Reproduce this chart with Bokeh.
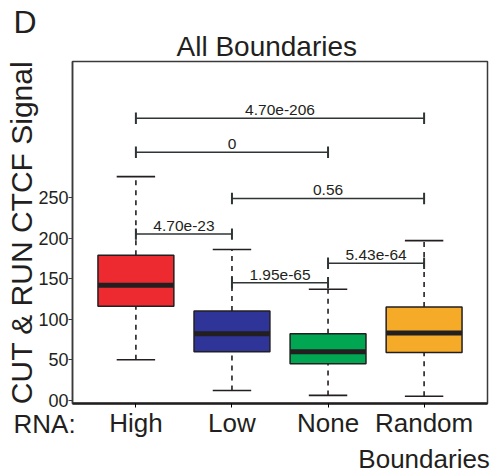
import math
from bokeh.plotting import figure
from bokeh.models import Range1d, FixedTicker, ColumnDataSource, Title
from bokeh.core.properties import value
from bokeh.embed import file_html
from bokeh.resources import INLINE

# ---- data ----
categories = ["High", "Low", "None", "Random\nBoundaries"]
whisker_low = [50, 12, 6, 5]
q1 = [116, 60, 45, 59]
median = [142, 82, 60, 83]
q3 = [179, 110, 82, 115]
whisker_high = [276, 186, 137, 197]
box_colors = ["#ec2a2f", "#2f3598", "#00a651", "#f5ab27"]

# comparisons: (first group index, second group index, p-value label, bracket height)
cmp_a = [1, 1, 2, 1, 2, 3]
cmp_b = [4, 3, 4, 2, 3, 4]
cmp_p = ["4.70e-206", "0", "0.56", "4.70e-23", "1.95e-65", "5.43e-64"]
cmp_y = [348, 306, 249, 205, 145, 169]

y_ticks = [0, 50, 100, 150, 200, 250]
y_tick_labels = ["00", "50", "100", "150", "200", "250"]

title_text = "All Boundaries"
panel_text = "D"
ylabel_text = "CUT & RUN CTCF Signal"
xprefix_text = "RNA:"

FONT = "Liberation Sans"
INK = "#231f20"

xs = [i + 1 for i in range(len(categories))]

p = figure(width=501, height=476, output_backend="svg", toolbar_location=None,
           x_range=Range1d(0.34, 4.66), y_range=Range1d(-4, 418),
           min_border_left=72, min_border_right=14, min_border_top=61, min_border_bottom=71)
p.grid.visible = False
p.outline_line_color = "#3a3a3a"
p.outline_line_width = 1.5
p.background_fill_color = "white"
p.border_fill_color = "white"

# whiskers
src = ColumnDataSource(dict(x=xs, lo=whisker_low, q1=q1, med=median, q3=q3, hi=whisker_high,
                            color=box_colors))
p.segment(x0="x", y0="q3", x1="x", y1="hi", source=src, line_color=INK, line_width=1.6, line_dash="5 5")
p.segment(x0="x", y0="lo", x1="x", y1="q1", source=src, line_color=INK, line_width=1.6, line_dash="5 5")
cap_w = 0.2
p.segment(x0=[x - cap_w for x in xs], y0=whisker_high, x1=[x + cap_w for x in xs], y1=whisker_high,
          line_color=INK, line_width=1.6)
p.segment(x0=[x - cap_w for x in xs], y0=whisker_low, x1=[x + cap_w for x in xs], y1=whisker_low,
          line_color=INK, line_width=1.6)
# boxes
p.vbar(x="x", width=0.79, bottom="q1", top="q3", source=src, fill_color="color",
       line_color=INK, line_width=1.5)
p.segment(x0=[x - 0.395 for x in xs], y0=median, x1=[x + 0.395 for x in xs], y1=median,
          line_color=INK, line_width=5)

# significance brackets
tick_h = 7
xa = [xs[a - 1] for a in cmp_a]
xb = [xs[b - 1] for b in cmp_b]
p.segment(x0=xa, y0=cmp_y, x1=xb, y1=cmp_y, line_color="#2f3535", line_width=1.5)
p.segment(x0=xa, y0=[y - tick_h for y in cmp_y], x1=xa, y1=[y + tick_h for y in cmp_y],
          line_color="#2f3535", line_width=2)
p.segment(x0=xb, y0=[y - tick_h for y in cmp_y], x1=xb, y1=[y + tick_h for y in cmp_y],
          line_color="#2f3535", line_width=2)
p.text(x=[(a + b) / 2 for a, b in zip(xa, xb)], y=cmp_y, text=cmp_p, text_align="center",
       text_baseline="bottom", y_offset=-3, text_font=value(FONT), text_font_size="15.5px",
       text_color=INK)

# axes
p.yaxis.ticker = FixedTicker(ticks=y_ticks)
p.yaxis.major_label_overrides = {t: l for t, l in zip(y_ticks, y_tick_labels)}
p.yaxis.major_label_text_font = FONT
p.yaxis.major_label_text_font_size = "18px"
p.yaxis.major_label_text_color = INK
p.yaxis.major_tick_out = 4
p.yaxis.major_tick_in = 0
p.yaxis.minor_tick_out = 0
p.yaxis.minor_tick_in = 0
p.yaxis.major_label_standoff = 0
p.yaxis.axis_line_width = 1.5
p.yaxis.axis_line_color = "#3a3a3a"
p.yaxis.major_tick_line_color = "#3a3a3a"
p.yaxis.axis_label = ylabel_text
p.yaxis.axis_label_text_font = FONT
p.yaxis.axis_label_text_font_size = "30px"
p.yaxis.axis_label_text_font_style = "normal"
p.yaxis.axis_label_text_color = INK
p.yaxis.axis_label_standoff = -3

p.xaxis.ticker = FixedTicker(ticks=xs)
p.xaxis.major_label_overrides = {x: c for x, c in zip(xs, categories)}
p.xaxis.major_label_text_font = FONT
p.xaxis.major_label_text_font_size = "26px"
p.xaxis.major_label_text_color = INK
p.xaxis.major_tick_out = 4
p.xaxis.major_tick_in = 0
p.xaxis.minor_tick_out = 0
p.xaxis.minor_tick_in = 0
p.xaxis.major_label_standoff = 0
p.xaxis.axis_line_width = 2.5
p.xaxis.axis_line_color = "#231f20"

# titles around the frame
p.add_layout(Title(text=title_text, align="left", offset=104, standoff=0,
                   text_font=FONT, text_font_size="28px", text_font_style="normal",
                   text_color=INK), "above")
p.add_layout(Title(text=panel_text, align="left", offset=-59, standoff=-22,
                   text_font=FONT, text_font_size="32px", text_font_style="normal",
                   text_color=INK), "above")
p.add_layout(Title(text=xprefix_text, align="left", offset=-59, standoff=-136, vertical_align="top",
                   text_font=FONT, text_font_size="26px", text_font_style="normal",
                   text_color=INK), "below")

open("out.html", "w").write(file_html(p, INLINE))
